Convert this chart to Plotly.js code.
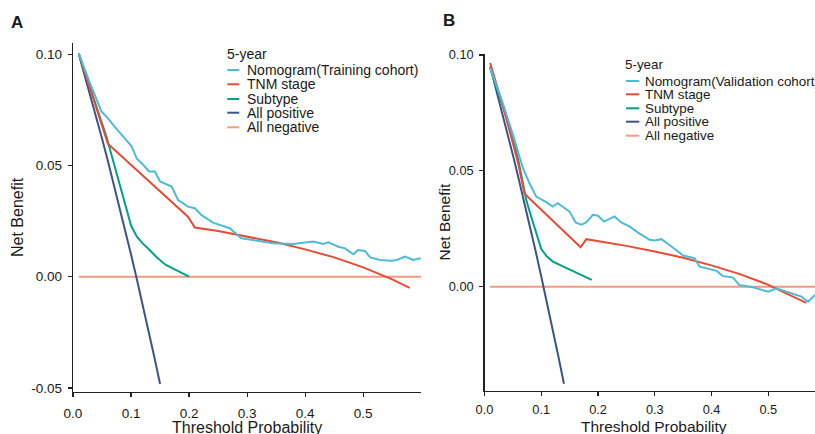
<!DOCTYPE html>
<html>
<head>
<meta charset="utf-8">
<script src="https://cdn.plot.ly/plotly-3.0.1.min.js"></script>
<style>html,body{margin:0;padding:0;background:#fff;}#chart{width:815px;height:434px;}</style>
</head>
<body>
<div id="chart"></div>
<script>
// ---------- Panel A (Training cohort) ----------
const ptA_nomo = [0.010,0.029,0.049,0.060,0.072,0.089,0.101,0.110,0.121,0.131,0.141,0.150,0.170,0.181,0.198,0.210,0.221,0.241,0.270,0.290,0.322,0.345,0.379,0.402,0.414,0.431,0.440,0.457,0.468,0.483,0.491,0.503,0.512,0.529,0.549,0.558,0.572,0.586,0.599];
const nbA_nomo = [0.1003,0.0871,0.0743,0.0713,0.0673,0.0623,0.0586,0.0530,0.0503,0.0473,0.0473,0.0428,0.0405,0.0345,0.0315,0.0308,0.0278,0.0243,0.0218,0.0173,0.0158,0.0150,0.0147,0.0153,0.0158,0.0147,0.0155,0.0135,0.0128,0.0101,0.0120,0.0116,0.0087,0.0075,0.0072,0.0075,0.0090,0.0075,0.0083];

const ptA_tnm = [0.01,0.06,0.198,0.21,0.25,0.30,0.35,0.40,0.45,0.50,0.55,0.58];
const nbA_tnm = [0.1003,0.0598,0.0270,0.0221,0.0205,0.0181,0.0155,0.0123,0.0087,0.0042,-0.0012,-0.0050];

const ptA_sub = [0.01,0.03,0.0575,0.07,0.08,0.09,0.10,0.11,0.12,0.132,0.145,0.16,0.18,0.20];
const nbA_sub = [0.1003,0.0846,0.0630,0.0513,0.0420,0.0325,0.0230,0.0180,0.0150,0.0120,0.0085,0.0053,0.0025,0.0000];

const ptA_pos = [0.01,0.02,0.03,0.04,0.05,0.06,0.07,0.08,0.09,0.10,0.11,0.12,0.13,0.14,0.15];
const nbA_pos = [0.1000,0.0908,0.0814,0.0719,0.0621,0.0521,0.0419,0.0315,0.0209,0.0100,-0.0011,-0.0125,-0.0241,-0.0360,-0.0482];

const ptA_neg = [0.01,0.5995];
const nbA_neg = [0,0];

// ---------- Panel B (Validation cohort) ----------
const ptB_nomo = [0.010,0.032,0.050,0.0676,0.079,0.091,0.109,0.120,0.129,0.150,0.1605,0.1705,0.179,0.191,0.200,0.2105,0.229,0.241,0.256,0.2705,0.291,0.300,0.3116,0.326,0.350,0.370,0.379,0.409,0.420,0.438,0.449,0.473,0.500,0.514,0.5585,0.570,0.582];
const nbB_nomo = [0.0944,0.0793,0.0656,0.0512,0.0447,0.0389,0.0365,0.0346,0.0360,0.0324,0.0277,0.0267,0.0277,0.0310,0.0306,0.0281,0.0303,0.0277,0.0259,0.0233,0.0202,0.0199,0.0205,0.0180,0.0134,0.0123,0.0086,0.0068,0.0046,0.0039,0.0007,-0.0003,-0.0022,-0.0007,-0.0043,-0.0065,-0.0036];

const ptB_tnm = [0.01,0.03,0.05,0.06,0.0705,0.1205,0.1693,0.1794,0.20,0.25,0.30,0.35,0.40,0.45,0.50,0.55,0.567];
const nbB_tnm = [0.0965,0.0800,0.0620,0.0525,0.0401,0.0286,0.0170,0.0205,0.0197,0.0176,0.0152,0.0125,0.0092,0.0054,0.0008,-0.0048,-0.0070];

const ptB_sub = [0.01,0.03,0.05,0.06,0.0735,0.08,0.09,0.10,0.11,0.1205,0.14,0.16,0.189];
const nbB_sub = [0.0944,0.0795,0.0648,0.0540,0.0375,0.0320,0.0240,0.0162,0.0130,0.0108,0.0085,0.0062,0.0029];

const ptB_pos = [0.01,0.02,0.03,0.04,0.05,0.06,0.07,0.08,0.09,0.10,0.11,0.12,0.13,0.14];
const nbB_pos = [0.0950,0.0857,0.0763,0.0667,0.0568,0.0468,0.0366,0.0261,0.0154,0.0044,-0.0067,-0.0182,-0.0299,-0.0419];

const ptB_neg = [0.01,0.5823];
const nbB_neg = [0,0];

// ---------- labels / ticks ----------
const seriesNamesA = ["Nomogram(Training cohort)","TNM stage","Subtype","All positive","All negative"];
const seriesNamesB = ["Nomogram(Validation cohort)","TNM stage","Subtype","All positive","All negative"];
const legendTitle = "5-year";
const colors = ["#4DBBD5","#E64B35","#00A087","#3C5488","#F39B7F"];
const xTickVals = [0,0.1,0.2,0.3,0.4,0.5];
const xTickText = ["0.0","0.1","0.2","0.3","0.4","0.5"];
const yTickValsA = [-0.05,0,0.05,0.10];
const yTickTextA = ["-0.05","0.00","0.05","0.10"];
const yTickValsB = [0,0.05,0.10];
const yTickTextB = ["0.00","0.05","0.10"];
const xTitle = "Threshold Probability";
const yTitle = "Net Benefit";

const W = 815, H = 434;
const px = v => v / W;
const py = v => 1 - v / H;

const dataA = [[ptA_nomo,nbA_nomo],[ptA_tnm,nbA_tnm],[ptA_sub,nbA_sub],[ptA_pos,nbA_pos],[ptA_neg,nbA_neg]];
const dataB = [[ptB_nomo,nbB_nomo],[ptB_tnm,nbB_tnm],[ptB_sub,nbB_sub],[ptB_pos,nbB_pos],[ptB_neg,nbB_neg]];

const traces = [];
const order = [4,3,2,1,0];
order.forEach(i => {
  traces.push({x:dataA[i][0], y:dataA[i][1], xaxis:'x', yaxis:'y', type:'scatter', mode:'lines',
    name:seriesNamesA[i], line:{color:colors[i], width:2}, showlegend:false});
});
order.forEach(i => {
  traces.push({x:dataB[i][0], y:dataB[i][1], xaxis:'x2', yaxis:'y2', type:'scatter', mode:'lines',
    name:seriesNamesB[i], line:{color:colors[i], width:2}, showlegend:false});
});

const axisCommon = {showline:true, linecolor:'#222', linewidth:1.3, ticks:'outside', ticklen:4,
  tickwidth:1.3, tickcolor:'#222', showgrid:false, zeroline:false, tickmode:'array', fixedrange:true};

const layout = {
  width:W, height:H, margin:{l:0,r:0,t:0,b:0}, paper_bgcolor:'#fff', plot_bgcolor:'#fff', showlegend:false,
  font:{family:'"Liberation Sans", Arial, sans-serif', color:'#1a1a1a'},
  xaxis:Object.assign({}, axisCommon, {domain:[px(73),px(421)], range:[0,0.5995], anchor:'y',
    tickvals:xTickVals, ticktext:xTickText, tickfont:{size:13.5}, ticklabelstandoff:4}),
  yaxis:Object.assign({}, axisCommon, {domain:[py(392),py(43.3)], range:[-0.0518,0.1049], anchor:'x',
    tickvals:yTickValsA, ticktext:yTickTextA, tickfont:{size:13.5}, ticklabelstandoff:3}),
  xaxis2:Object.assign({}, axisCommon, {domain:[px(484.5),1], range:[0,0.5823], anchor:'y2',
    tickvals:xTickVals, ticktext:xTickText, tickfont:{size:12.8}, ticklabelstandoff:3}),
  yaxis2:Object.assign({}, axisCommon, {domain:[py(390.7),py(54)], range:[-0.0449,0.1004], anchor:'x2',
    tickvals:yTickValsB, ticktext:yTickTextB, tickfont:{size:12.8}, ticklabelstandoff:3}),
  annotations:[], shapes:[]
};

function addText(text, x, y, size, opts) {
  layout.annotations.push(Object.assign({text:text, x:px(x), y:py(y), xref:'paper', yref:'paper',
    showarrow:false, xanchor:'left', yanchor:'middle', font:{size:size, color:'#1a1a1a'}, borderpad:0}, opts||{}));
}

// panel letters
addText('<b>A</b>', 16.5, 22.5, 17, {xanchor:'center'});
addText('<b>B</b>', 449, 21, 17, {xanchor:'center'});
// axis titles
addText(xTitle, 247, 427, 16, {xanchor:'center'});
addText(xTitle, 654, 426, 15.5, {xanchor:'center'});
addText(yTitle, 17, 217, 16, {xanchor:'center', textangle:-90});
addText(yTitle, 443.5, 222, 15.5, {xanchor:'center', textangle:-90});

// legends
function addLegend(names, titleX, titleY, keyX0, keyX1, textX, ys, size) {
  addText(legendTitle, titleX, titleY, size);
  names.forEach((n, i) => {
    layout.shapes.push({type:'line', xref:'paper', yref:'paper', x0:px(keyX0), x1:px(keyX1), y0:py(ys[i]), y1:py(ys[i]),
      line:{color:colors[i], width:2}});
    addText(n, textX, ys[i], size);
  });
}
addLegend(seriesNamesA, 226, 54, 227.3, 239.3, 245.5, [70,84.3,99,112.7,127.3], 14);
addLegend(seriesNamesB, 624, 65, 626, 639.3, 643.5, [81,94.3,108.3,121.7,135.7], 13.4);

Plotly.newPlot('chart', traces, layout, {staticPlot:true, displayModeBar:false});
</script>
</body>
</html>
